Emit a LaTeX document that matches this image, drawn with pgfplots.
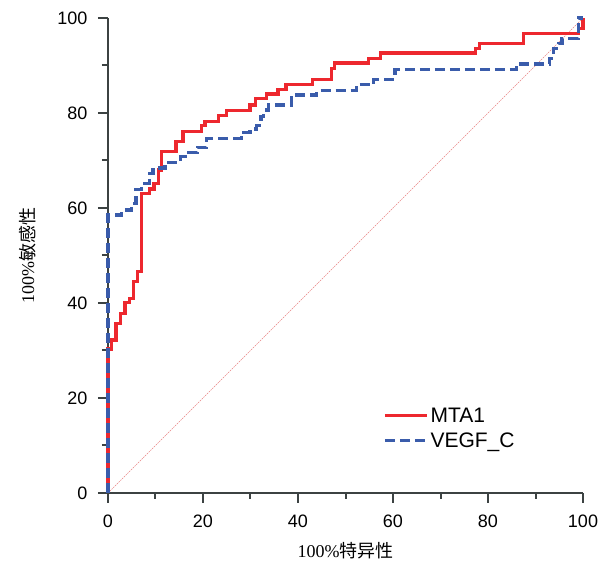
\documentclass[border=0pt]{standalone}
\usepackage{fontspec}
\setmainfont{Liberation Sans}
\newfontfamily\tnr{Liberation Serif}
\newfontfamily\cjk{Noto Sans CJK SC}
\usepackage{pgfplots}
\pgfplotsset{compat=1.18}

\definecolor{mtared}{RGB}{237,40,46}
\definecolor{vegfblue}{RGB}{58,92,171}
\definecolor{axgray}{RGB}{60,66,66}
\definecolor{diagred}{RGB}{232,130,130}

\begin{document}
\begin{tikzpicture}
\useasboundingbox (-108pt,-71pt) rectangle (500pt,493pt);
\begin{axis}[
  scale only axis,
  width=475pt, height=475pt,
  xmin=0, xmax=100, ymin=0, ymax=100,
  axis lines=left,
  axis line style={axgray, line width=2.2pt, -},
  clip=false,
  xtick={0,20,...,100}, ytick={0,20,...,100},
  minor tick num=1,
  tick align=outside,
  tick style={axgray, line width=2pt},
  major tick length=10pt, minor tick length=6pt,
  tick label style={font=\fontsize{18}{21}\selectfont},
  /pgf/number format/assume math mode=true,
  xticklabel style={yshift=-8pt},
  yticklabel style={xshift=-7pt},
  xlabel={\tnr 100\%\cjk 特异性},
  ylabel={\tnr 100\%\cjk 敏感性},
  xlabel style={at={(axis description cs:0.5,-0.122)}, anchor=center, font=\fontsize{18}{21}\selectfont},
  ylabel style={at={(axis description cs:-0.17,0.5)}, anchor=center, font=\fontsize{18}{21}\selectfont},
  legend style={draw=none, fill=none, at={(axis cs:57.9,18.4)}, anchor=north west,
    font=\fontsize{21}{24}\selectfont, row sep=5pt, inner sep=0pt,
    nodes={inner sep=2pt}},
  legend cell align=left,
  legend image code/.code={\draw[#1] (0pt,0pt) -- (42pt,0pt);},
]
\addplot[diagred, line width=0.6pt, dash pattern=on 1.5pt off 1pt, forget plot]
  coordinates {(0,0) (100,100)};

\addplot[mtared, line width=3.3pt] coordinates {
(0,0) (0,30.3) (0.8,30.3) (0.8,32.2) (1.7,32.2) (1.7,35.7) (2.7,35.7) (2.7,37.8)
(3.6,37.8) (3.6,40.1) (4.5,40.1) (4.5,41.0) (5.3,41.0) (5.3,44.5) (6.2,44.5)
(6.2,46.6) (7.1,46.6) (7.1,63.1) (8.8,63.1) (8.8,64.0) (9.7,64.0) (9.7,65.2)
(10.6,65.2) (10.6,68.0) (11.3,68.0) (11.3,71.9) (14.3,71.9) (14.3,74.0)
(15.8,74.0) (15.8,76.1) (19.7,76.1) (19.7,77.3) (20.4,77.3) (20.4,78.2)
(23.2,78.2) (23.2,79.4) (25.0,79.4) (25.0,80.5) (29.9,80.5) (29.9,81.7)
(31.0,81.7) (31.0,83.0) (33.4,83.0) (33.4,84.0) (35.8,84.0) (35.8,85.0)
(37.5,85.0) (37.5,86.0) (43.1,86.0) (43.1,87.0) (47.1,87.0) (47.1,89.3)
(47.7,89.3) (47.7,90.5) (54.8,90.5) (54.8,91.5) (57.3,91.5) (57.3,92.6)
(77.3,92.6) (77.3,93.6) (78.2,93.6) (78.2,94.7) (87.4,94.7) (87.4,96.8)
(99.0,96.8) (99.0,97.8) (100,97.8) (100,100)
};
\addlegendentry{MTA1}

\addplot[vegfblue, line width=3.3pt, dash pattern=on 10pt off 5pt] coordinates {
(0,0) (0,58.5) (2.9,58.5) (2.9,59.6) (5.0,59.6) (5.0,61.0) (5.9,61.0) (5.9,63.9)
(7.1,63.9) (7.1,65.2) (8.7,65.2) (8.7,67.2) (9.5,67.2) (9.5,68.4) (12.0,68.4)
(12.0,69.6) (15.3,69.6) (15.3,70.8) (16.6,70.8) (16.6,71.7) (18.8,71.7)
(18.8,72.8) (20.8,72.8) (20.8,74.7) (28.1,74.7) (28.1,75.9) (29.9,75.9)
(29.9,76.6) (31.2,76.6) (31.2,77.3) (32.2,77.3) (32.2,79.3) (32.8,79.3)
(32.8,80.6) (33.8,80.6) (33.8,81.7) (38.6,81.7) (38.6,83.8) (43.9,83.8)
(43.9,84.7) (52.3,84.7) (52.3,86.0) (55.9,86.0) (55.9,87.1) (60.4,87.1)
(60.4,89.1) (86.0,89.1) (86.0,90.3) (92.9,90.3) (92.9,91.5) (93.8,91.5)
(93.8,93.6) (94.9,93.6) (94.9,94.7) (95.6,94.7) (95.6,95.7) (99.0,95.7)
(99.0,100) (100,100)
};
\addlegendentry{VEGF\_C}
\end{axis}
\end{tikzpicture}
\end{document}
